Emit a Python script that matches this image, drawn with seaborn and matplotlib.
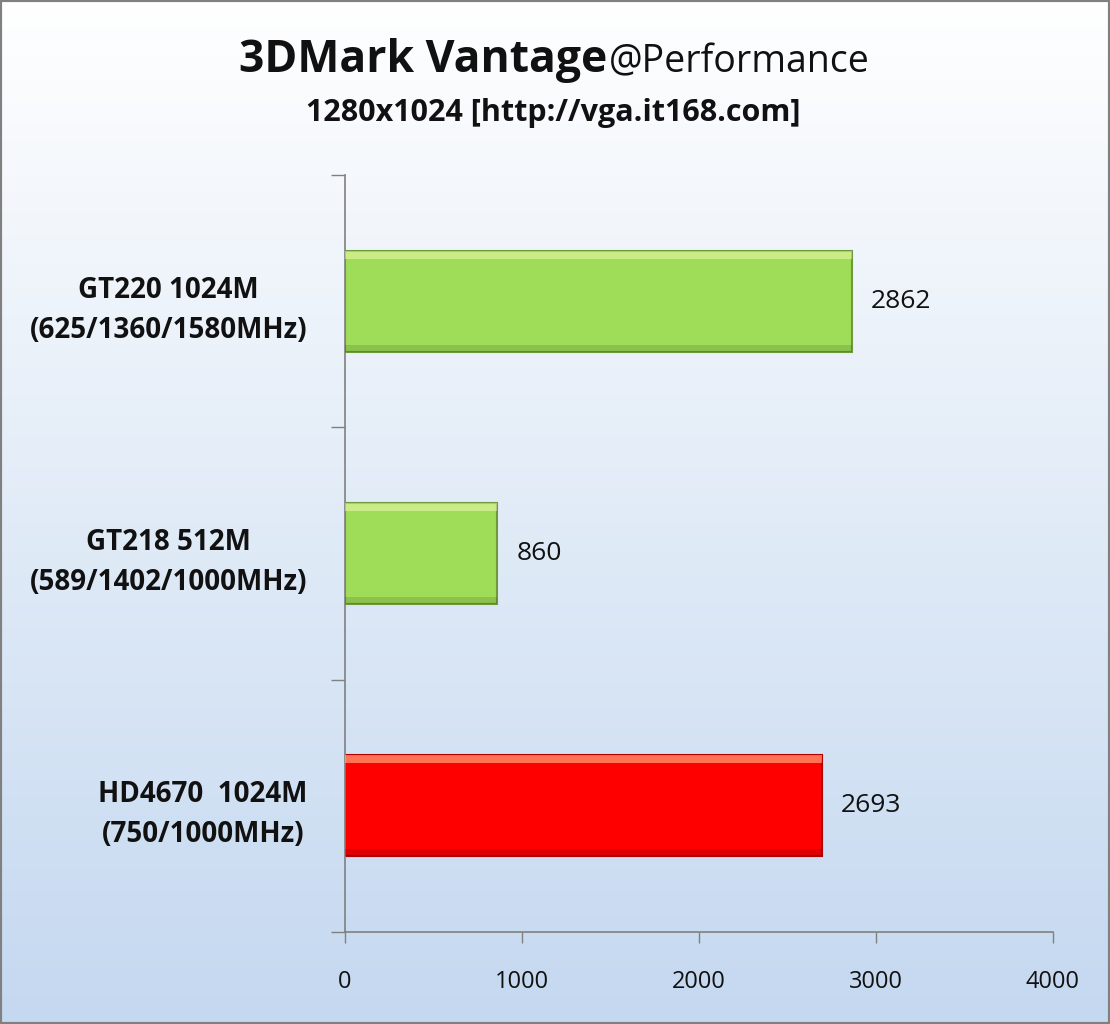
import numpy as np
import pandas as pd
import matplotlib
matplotlib.use("Agg")
import matplotlib.pyplot as plt
import seaborn as sns
from matplotlib.patches import Rectangle

categories = ["GT220 1024M\n(625/1360/1580MHz)",
              "GT218 512M\n(589/1402/1000MHz)",
              "HD4670  1024M\n(750/1000MHz)"]
scores = [2862, 860, 2693]
bar_colors = ["#9FDC58", "#9FDC58", "#FF0000"]
edge_colors = ["#6E9A3A", "#6E9A3A", "#B00000"]
x_ticks = [0, 1000, 2000, 3000, 4000]

sns.set_theme(style="white")
plt.rcParams['font.family'] = ['Open Sans', 'DejaVu Sans']

W, H = 1110, 1024
fig = plt.figure(figsize=(W / 100, H / 100), dpi=100)

# gradient background
bg = fig.add_axes([0, 0, 1, 1], zorder=-10)
grad = np.linspace(0, 1, 256).reshape(-1, 1)
top = np.array([1.0, 1.0, 1.0])
bot = np.array([0xC4, 0xD8, 0xF0]) / 255
img = top[None, None, :] * (1 - grad[:, :, None]) + bot[None, None, :] * grad[:, :, None]
bg.imshow(img, aspect="auto", extent=[0, 1, 0, 1])
bg.set_axis_off()
bg.add_patch(Rectangle((0, 0), 1, 1, transform=bg.transAxes, fill=False,
                       edgecolor="#808080", linewidth=3))

ax = fig.add_axes([345 / W, 1 - 932 / H, (1053 - 345) / W, (932 - 175) / H])
ax.patch.set_alpha(0)

df = pd.DataFrame({"cat": categories, "score": scores})
sns.barplot(data=df, y="cat", x="score", hue="cat", palette=bar_colors,
            legend=False, orient="h", width=0.4, ax=ax, saturation=1)

for p, ec in zip(ax.patches, edge_colors):
    p.set_edgecolor(ec)
    p.set_linewidth(1.5)
    # bevel highlight on top edge, shade on bottom
    x0, y0 = p.get_x(), p.get_y()
    w, h = p.get_width(), p.get_height()
    ax.add_patch(Rectangle((x0, y0), w, h * 0.08, facecolor="#FFFFC0", alpha=0.45,
                           edgecolor="none", zorder=3))
    ax.add_patch(Rectangle((x0, y0 + h * 0.93), w, h * 0.07, facecolor="black", alpha=0.12,
                           edgecolor="none", zorder=3))

for i, v in enumerate(scores):
    ax.text(v + 110, i, f"{v}", va="center", ha="left", fontsize=19, color="#111111")

ax.set_xlim(0, 4000)
ax.set_ylim(2.5, -0.5)
ax.set_xticks(x_ticks)
ax.set_xticklabels([str(t) for t in x_ticks], fontsize=17, color="#111111")
ax.tick_params(axis="x", length=8, width=1, color="#808080", direction="out",
               pad=19, bottom=True)
ax.set_yticks([0, 1, 2])
ax.set_yticklabels(categories, fontsize=20, fontweight="bold", color="#111111",
                   multialignment="center", linespacing=1.5)
ax.tick_params(axis="y", which="major", length=0, pad=27)
ax.set_yticks([-0.5, 0.5, 1.5, 2.5], minor=True)
ax.tick_params(axis="y", which="minor", length=10, width=1, color="#808080",
               direction="out", left=True)
for s in ["top", "right"]:
    ax.spines[s].set_visible(False)
for s in ["left", "bottom"]:
    ax.spines[s].set_color("#808080")
    ax.spines[s].set_linewidth(1.2)
ax.set_xlabel("")
ax.set_ylabel("")

fig.text(607 / W, 1 - 72 / H, "3DMark Vantage", ha="right", va="baseline",
         fontsize=32, fontweight="bold", color="#111111")
fig.text(609 / W, 1 - 72 / H, "@Performance", ha="left", va="baseline",
         fontsize=27, color="#111111")
fig.text(553 / W, 1 - 113 / H, "1280x1024 [http://vga.it168.com]", ha="center",
         va="center", fontsize=22, fontweight="bold", color="#111111")

fig.savefig("out.png", dpi=100)
